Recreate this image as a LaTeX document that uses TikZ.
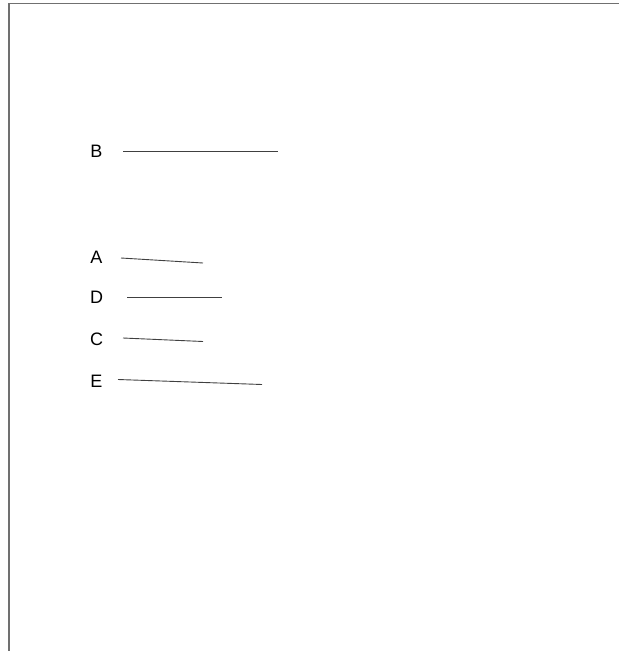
\documentclass[tikz,border=0pt]{standalone}
\usepackage{fontspec}
\setmainfont{Liberation Sans}
\usetikzlibrary{positioning}
\definecolor{Frame}{HTML}{707070}
\definecolor{Lead}{HTML}{404040}
\tikzset{
  lbl/.style={inner sep=0pt,text=black,font=\fontsize{18}{21}\selectfont},
  lead/.style={Lead,line width=0.9pt}
}
\begin{document}
\begin{tikzpicture}[x=1pt,y=-1pt]
    \useasboundingbox (0,0) rectangle (619,651);
    % frame, open at right and bottom
    \draw[Frame,line width=1.4pt] (9,651) -- (9,3.5) -- (619,3.5);

    \node[lbl] (labB) at (96.5,151) {B};
    \node[lbl] (labA) at (96.5,257) {A};
    \node[lbl] (labD) at (96.5,297) {D};
    \node[lbl] (labC) at (96.5,339) {C};
    \node[lbl] (labE) at (96.5,381) {E};

    \coordinate (b1) at (123,151);
    \coordinate (b2) at (278,151);
    \coordinate (a1) at (121,258);
    \coordinate (a2) at (203,263);
    \coordinate (d1) at (127,297.5);
    \coordinate (d2) at (222,297.5);
    \coordinate (c1) at (123,338);
    \coordinate (c2) at (203,341.5);
    \coordinate (e1) at (118,379.5);
    \coordinate (e2) at (262,384.5);

    \draw[lead] (b1) -- (b2);
    \draw[lead] (a1) -- (a2);
    \draw[lead] (d1) -- (d2);
    \draw[lead] (c1) -- (c2);
    \draw[lead] (e1) -- (e2);
\end{tikzpicture}
\end{document}
